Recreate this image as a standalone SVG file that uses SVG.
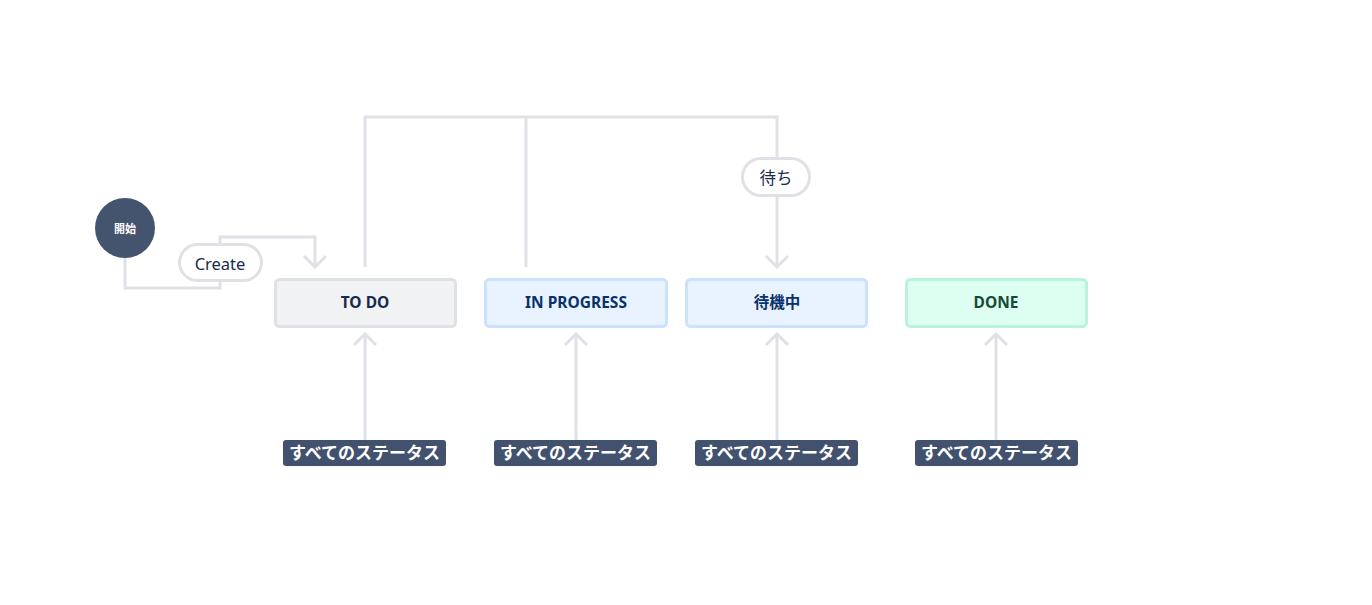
<svg xmlns="http://www.w3.org/2000/svg" width="1372" height="605" viewBox="0 0 1372 605">
<style>
.ln{fill:none;stroke:#DFE1E6;stroke-width:3}
.pill{fill:#FFFFFF;stroke:#DFE1E6;stroke-width:3}
.pt{font-family:"Noto Sans","Noto Sans CJK JP",sans-serif;font-size:16.5px;fill:#172B4D;text-anchor:middle;dominant-baseline:central}
.st{font-family:"Noto Sans","Noto Sans CJK JP",sans-serif;font-size:15.5px;font-weight:bold;text-anchor:middle;dominant-baseline:central}
.bd{fill:#42526E}
.bt{font-family:"Noto Sans","Noto Sans CJK JP",sans-serif;font-size:17px;font-weight:bold;fill:#FFFFFF;text-anchor:middle;dominant-baseline:central}
</style>
<defs>
<marker id="arr" viewBox="-14 -13 16 26" refX="0" refY="0" markerWidth="16" markerHeight="26" markerUnits="userSpaceOnUse" orient="auto">
<path d="M-11,-11 L0,0 L-11,11" fill="none" stroke="#DFE1E6" stroke-width="3"/>
</marker>
</defs>
<rect width="1372" height="605" fill="#FFFFFF"/>
<g id="connectors">
<path class="ln" d="M125,258 V288 H220 V237 H315 V267" marker-end="url(#arr)"/>
<path class="ln" d="M365,267 V117 H777 V267" marker-end="url(#arr)"/>
<path class="ln" d="M526,267 V117"/>
<path class="ln" d="M365,440 V334" marker-end="url(#arr)"/>
<path class="ln" d="M576,440 V334" marker-end="url(#arr)"/>
<path class="ln" d="M777,440 V334" marker-end="url(#arr)"/>
<path class="ln" d="M996,440 V334" marker-end="url(#arr)"/>
<g id="label-create"><rect class="pill" x="179.5" y="244.5" width="82" height="36" rx="18"/><text class="pt" x="220" y="263">Create</text></g>
<g id="label-wait"><rect class="pill" x="742.5" y="158.5" width="67" height="37" rx="18.5"/><text class="pt" x="776" y="177">待ち</text></g>
</g>
<g id="start"><circle cx="125" cy="228" r="30" fill="#44546F"/><text x="125" y="228" font-family="Noto Sans CJK JP,sans-serif" font-size="11" font-weight="bold" fill="#FFFFFF" text-anchor="middle" dominant-baseline="central">開始</text></g>
<g id="todo"><rect x="275.5" y="279.5" width="180" height="47" rx="4" fill="#F1F2F4" stroke="#DFE1E6" stroke-width="3"/><text class="st" x="365" y="302" fill="#172B4D">TO DO</text></g>
<g id="inprogress"><rect x="485.5" y="279.5" width="181" height="47" rx="4" fill="#E9F2FF" stroke="#CCE0FF" stroke-width="3"/><text class="st" x="576" y="302" fill="#09326C">IN PROGRESS</text></g>
<g id="waiting"><rect x="686.5" y="279.5" width="180" height="47" rx="4" fill="#E9F2FF" stroke="#CCE0FF" stroke-width="3"/><text class="st" x="777" y="302" fill="#09326C">待機中</text></g>
<g id="done"><rect x="906.5" y="279.5" width="180" height="47" rx="4" fill="#DCFFF1" stroke="#BAF3DB" stroke-width="3"/><text class="st" x="996" y="302" fill="#164B35">DONE</text></g>
<g id="all1"><rect class="bd" x="283" y="440" width="163" height="26" rx="3"/><text class="bt" x="364.5" y="452">すべてのステータス</text></g>
<g id="all2"><rect class="bd" x="494" y="440" width="163" height="26" rx="3"/><text class="bt" x="575.5" y="452">すべてのステータス</text></g>
<g id="all3"><rect class="bd" x="695" y="440" width="163" height="26" rx="3"/><text class="bt" x="776.5" y="452">すべてのステータス</text></g>
<g id="all4"><rect class="bd" x="915" y="440" width="163" height="26" rx="3"/><text class="bt" x="996.5" y="452">すべてのステータス</text></g>
</svg>
